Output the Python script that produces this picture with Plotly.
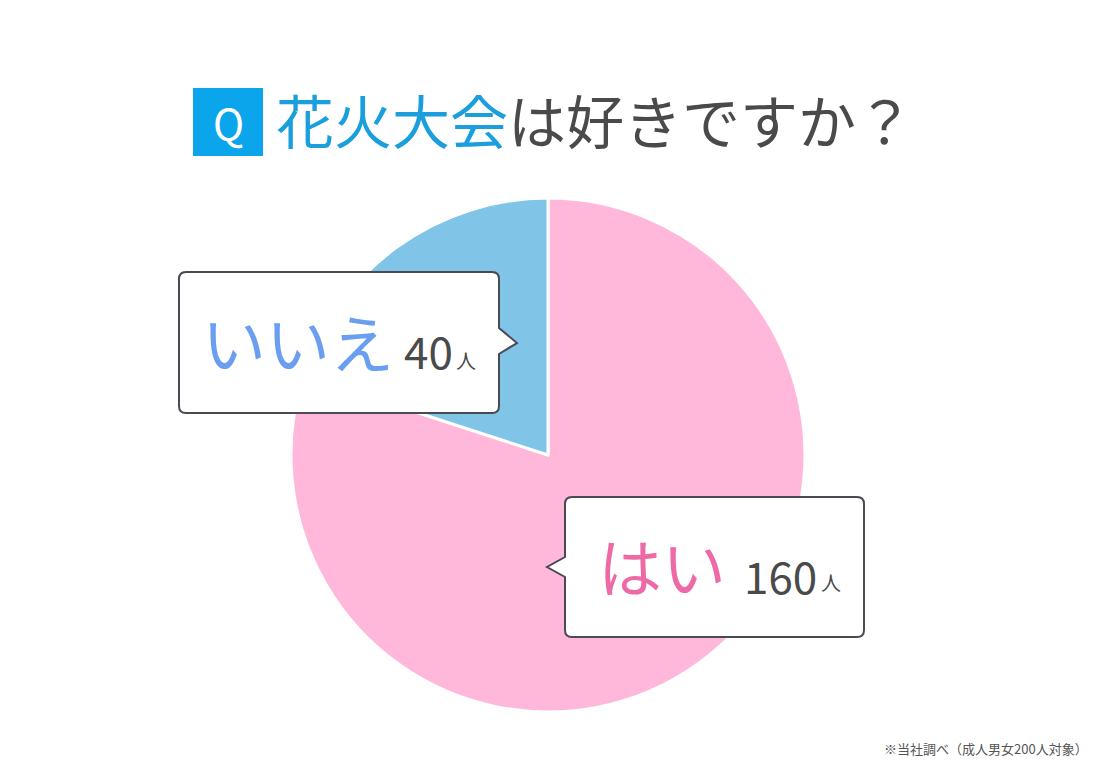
import plotly.graph_objects as go

W, H = 1092, 754   # figure sits 8px in from the page edge
OX, OY = 8, 8

labels = ["はい", "いいえ"]
values = [160, 40]
colors = ["#FFB8DA", "#80C4E8"]
label_colors = ["#EE6AA7", "#6A9EF0"]
unit = "人"
title_blue = "花火大会"
title_rest = "は好きですか？"
footnote = "※当社調べ（成人男女200人対象）"

FONT = "Noto Sans CJK JP"


def px(x):
    return (x - OX) / W


def py(y):
    return 1 - (y - OY) / H


def callout_path(x0, y0, x1, y1, side, pa, tip, pb, r=7):
    p = f"M{px(x0 + r)},{py(y0)} L{px(x1 - r)},{py(y0)} Q{px(x1)},{py(y0)} {px(x1)},{py(y0 + r)} "
    if side == "right":
        p += f"L{px(x1)},{py(pa)} L{px(tip[0])},{py(tip[1])} L{px(x1)},{py(pb)} "
    p += f"L{px(x1)},{py(y1 - r)} Q{px(x1)},{py(y1)} {px(x1 - r)},{py(y1)} "
    p += f"L{px(x0 + r)},{py(y1)} Q{px(x0)},{py(y1)} {px(x0)},{py(y1 - r)} "
    if side == "left":
        p += f"L{px(x0)},{py(pb)} L{px(tip[0])},{py(tip[1])} L{px(x0)},{py(pa)} "
    p += f"L{px(x0)},{py(y0 + r)} Q{px(x0)},{py(y0)} {px(x0 + r)},{py(y0)} Z"
    return p


cx, cy, R = 548, 455, 257

fig = go.Figure(
    go.Pie(
        labels=labels,
        values=values,
        sort=False,
        direction="clockwise",
        rotation=0,
        marker=dict(colors=colors, line=dict(color="white", width=3)),
        textinfo="none",
        hoverinfo="label+value",
        showlegend=False,
        domain=dict(x=[px(cx - R), px(cx + R)], y=[py(cy + R), py(cy - R)]),
    )
)

shapes = [
    dict(type="rect", xref="paper", yref="paper",
         x0=px(193), x1=px(263), y0=py(156), y1=py(88),
         fillcolor="#0AA5EA", line=dict(width=0), layer="above"),
    dict(type="path", xref="paper", yref="paper",
         path=callout_path(179, 272, 499, 413, "right", 328, (517, 343), 354),
         fillcolor="white", line=dict(color="#4A4A55", width=2), layer="above"),
    dict(type="path", xref="paper", yref="paper",
         path=callout_path(565, 497, 864, 637, "left", 557, (547, 567), 577),
         fillcolor="white", line=dict(color="#4A4A55", width=2), layer="above"),
]

ann = []


def add(text, x, y, size, color, xanchor="center", yanchor="middle"):
    ann.append(dict(text=text, x=px(x), y=py(y), xref="paper", yref="paper",
                    xanchor=xanchor, yanchor=yanchor, showarrow=False,
                    font=dict(family=FONT, size=size, color=color)))


add("Q", 228, 121, 42, "white")
add(f"<span style='color:#1A9FDC'>{title_blue}</span>{title_rest}", 274, 119, 58, "#4A4A4A", xanchor="left")

# いいえ
add(labels[1], 298, 340, 64, label_colors[1])
add(str(values[1]), 428, 350, 44, "#4A4A4A")
add(unit, 466, 360, 20, "#4A4A4A")

# はい
add(labels[0], 662, 564, 64, label_colors[0])
add(str(values[0]), 780, 575, 44, "#4A4A4A")
add(unit, 831, 582, 20, "#4A4A4A")

add(footnote, 1090, 748, 13, "#555555", xanchor="right")

fig.update_layout(
    width=W, height=H,
    margin=dict(l=0, r=0, t=0, b=0),
    paper_bgcolor="white", plot_bgcolor="white",
    shapes=shapes, annotations=ann,
)

fig.write_html("out.html")
